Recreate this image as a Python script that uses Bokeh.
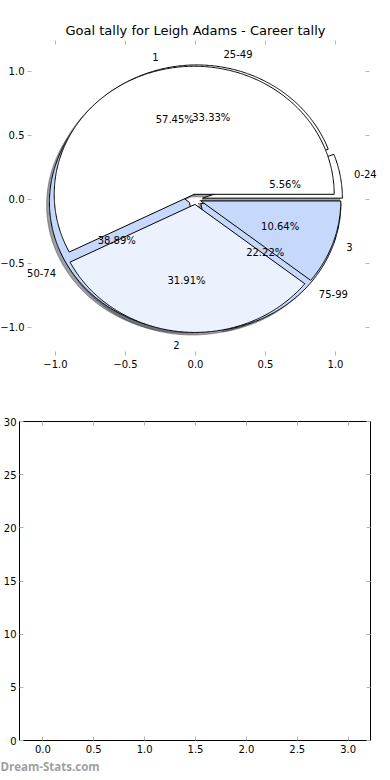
import numpy as np
from bokeh.plotting import figure
from bokeh.models import (ColumnDataSource, FixedTicker, LinearAxis, Range1d,
                          CustomJSTickFormatter, Title, NumeralTickFormatter,
                          LabelSet)
from bokeh.core.properties import value
from bokeh.embed import file_html
from bokeh.resources import INLINE

# ---------------- data ----------------
TITLE = "Goal tally for Leigh Adams - Career tally"
goal_labels = ["1", "2", "3"]
goal_counts = [27, 15, 5]
goal_colors = ["#FFFFFF", "#EBF2FE", "#C6D9FD"]

age_labels = ["0-24", "25-49", "50-74", "75-99"]
age_counts = [1, 6, 7, 4]
age_colors = ["#FFFFFF", "#FFFFFF", "#C6D9FD", "#C6D9FD"]

goal_explode = 0.04
age_explode = 0.05

pie_ticks = [-1.0, -0.5, 0.0, 0.5, 1.0]
bar_x_ticks = [0.0, 0.5, 1.0, 1.5, 2.0, 2.5, 3.0]
bar_y_ticks = [0, 5, 10, 15, 20, 25, 30]
WATERMARK = "Dream-Stats.com"

# axes limits of the pie panel (the visible box is x -1.25..1.24)
PIE_X = (-1.393, 1.393)
PIE_Y = (-1.22, 1.24)
PIE_LEFT_SPINE = -1.2
PIE_RIGHT_SPINE = 1.243
BAR_X = (-0.23, 3.22)
BAR_Y = (0, 30)

FONT = "DejaVu Sans"
TICK_COLOR = "#b4b4b4"


def shade(hex_color, k=0.3):
    h = hex_color.lstrip("#")
    r, g, b = (int(h[i:i + 2], 16) for i in (0, 2, 4))
    return "#%02x%02x%02x" % (int(r * k), int(g * k), int(b * k))


def pie_data(labels, counts, colors, explode, shadow=(-0.02, -0.02)):
    fr = np.array(counts, dtype=float) / float(sum(counts))
    ends = np.cumsum(fr) * 360.0
    starts = ends - fr * 360.0
    wx, wy, sx, sy, fills, shades = [], [], [], [], [], []
    lab = {"left": dict(x=[], y=[], t=[]), "right": dict(x=[], y=[], t=[])}
    pct = dict(x=[], y=[], t=[])
    for lbl, f, c, s, e in zip(labels, fr, colors, starts, ends):
        mid = np.deg2rad((s + e) / 2.0)
        cx, cy = explode * np.cos(mid), explode * np.sin(mid)
        n = max(int((e - s) * 2), 6)
        t = np.deg2rad(np.linspace(s, e, n))
        px = [cx] + list(cx + np.cos(t))
        py = [cy] + list(cy + np.sin(t))
        wx.append(px); wy.append(py)
        sx.append([v + shadow[0] for v in px]); sy.append([v + shadow[1] for v in py])
        fills.append(c); shades.append(shade(c))
        lx, ly = cx + 1.1 * np.cos(mid), cy + 1.1 * np.sin(mid)
        side = "left" if lx > 0 else "right"
        lab[side]["x"].append(lx); lab[side]["y"].append(ly); lab[side]["t"].append(lbl)
        pct["x"].append(cx + 0.6 * np.cos(mid)); pct["y"].append(cy + 0.6 * np.sin(mid))
        pct["t"].append("%1.2f%%" % (100 * f))
    wedges = ColumnDataSource(dict(xs=wx, ys=wy, fill=fills))
    shadows = ColumnDataSource(dict(xs=sx, ys=sy, fill=shades))
    return wedges, shadows, lab, pct


def style_axis(ax, show_labels=True, standoff=4):
    ax.major_tick_in = 4
    ax.major_tick_out = 0
    ax.major_tick_line_color = TICK_COLOR
    ax.minor_tick_line_color = None
    ax.axis_line_color = None
    ax.axis_label_standoff = 0
    ax.major_label_text_font = FONT
    ax.major_label_text_font_size = "10px"
    ax.major_label_text_color = "#000000"
    ax.major_label_standoff = standoff
    if not show_labels:
        ax.formatter = CustomJSTickFormatter(code="return ''")
        ax.major_label_standoff = 0


def add_texts(p, d, align):
    if not d["t"]:
        return
    src = ColumnDataSource(dict(x=d["x"], y=d["y"], t=d["t"]))
    p.add_layout(LabelSet(x="x", y="y", text="t", source=src, text_align=align,
                          text_baseline="middle", text_font=value(FONT),
                          text_font_size="10px", text_color="black"))


# ---------------- top: pies ----------------
p1 = figure(width=390, height=388, x_range=Range1d(*PIE_X),
            y_range=Range1d(*PIE_Y), output_backend="svg",
            toolbar_location=None, min_border_left=0, min_border_right=0,
            min_border_top=40, min_border_bottom=33)
p1.title.text = TITLE
p1.title.text_font = FONT
p1.title.text_font_size = "13px"
p1.title.text_font_style = "normal"
p1.title.text_color = "black"
p1.title.align = "center"
p1.title.standoff = 5
p1.outline_line_color = None
p1.grid.visible = False

overrides = {t: ("%.1f" % t).replace("-", "\u2212") for t in pie_ticks}
for ax in (p1.xaxis[0], p1.yaxis[0]):
    ax.ticker = FixedTicker(ticks=pie_ticks)
    ax.major_label_overrides = overrides
    style_axis(ax, standoff=4 if ax is p1.xaxis[0] else 3)
p1.yaxis[0].fixed_location = PIE_LEFT_SPINE

extra_r = LinearAxis(ticker=FixedTicker(ticks=pie_ticks), fixed_location=PIE_RIGHT_SPINE)
style_axis(extra_r, show_labels=False)
p1.add_layout(extra_r, "right")
extra_a = LinearAxis(ticker=FixedTicker(ticks=pie_ticks))
style_axis(extra_a, show_labels=False)
p1.add_layout(extra_a, "above")

age_w, age_s, age_lab, age_pct = pie_data(age_labels, age_counts, age_colors, age_explode)
goal_w, goal_s, goal_lab, goal_pct = pie_data(goal_labels, goal_counts, goal_colors, goal_explode)

for src in (age_s, goal_s):
    p1.patches("xs", "ys", source=src, fill_color="fill", fill_alpha=0.5,
               line_color="fill", line_alpha=0.5, line_width=1)
for src in (age_w, goal_w):
    p1.patches("xs", "ys", source=src, fill_color="fill", line_color="black",
               line_width=1)

for lab, pct in ((age_lab, age_pct), (goal_lab, goal_pct)):
    add_texts(p1, lab["left"], "left")
    add_texts(p1, lab["right"], "right")
    add_texts(p1, pct, "center")

# ---------------- bottom: empty bar axes ----------------
p2 = figure(width=390, height=392, x_range=Range1d(*BAR_X),
            y_range=Range1d(*BAR_Y), output_backend="svg",
            toolbar_location=None, min_border_left=19, min_border_right=20,
            min_border_top=33, min_border_bottom=40)
p2.grid.visible = False
p2.outline_line_color = "black"
p2.outline_line_width = 1
p2.xaxis[0].ticker = FixedTicker(ticks=bar_x_ticks)
p2.xaxis[0].formatter = NumeralTickFormatter(format="0.0")
p2.yaxis[0].ticker = FixedTicker(ticks=bar_y_ticks)
p2.yaxis[0].formatter = NumeralTickFormatter(format="0")
style_axis(p2.xaxis[0], standoff=4)
style_axis(p2.yaxis[0], standoff=3)
extra_r2 = LinearAxis(ticker=FixedTicker(ticks=bar_y_ticks))
style_axis(extra_r2, show_labels=False)
p2.add_layout(extra_r2, "right")
extra_t2 = LinearAxis(ticker=FixedTicker(ticks=bar_x_ticks))
style_axis(extra_t2, show_labels=False)
p2.add_layout(extra_t2, "above")

wm = Title(text=WATERMARK, align="left", text_font="Open Sans", text_font_size="11.5px",
           text_font_style="bold", text_color="#a0a0a0", offset=-19, standoff=2)
p2.add_layout(wm, "below")

open("out.html", "w").write(file_html([p1, p2], INLINE))
